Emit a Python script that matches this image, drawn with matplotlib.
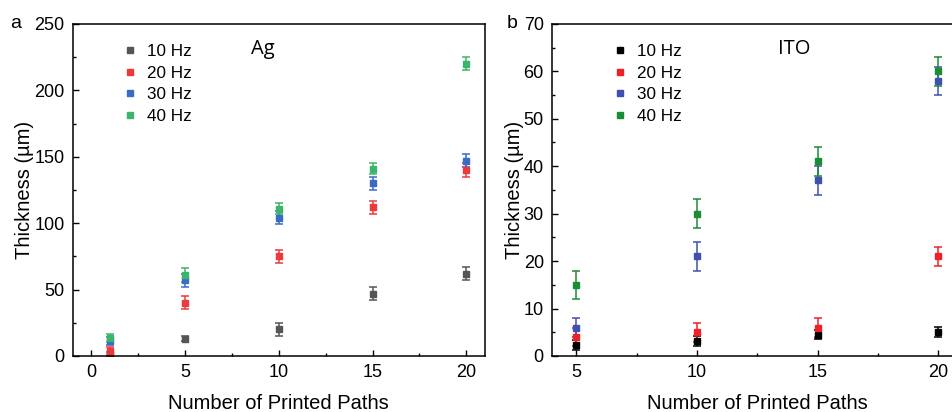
import matplotlib.pyplot as plt
from matplotlib.lines import Line2D
from matplotlib.ticker import MultipleLocator

plt.rcParams['font.family'] = ['Liberation Sans', 'DejaVu Sans']

labels = ["10 Hz", "20 Hz", "30 Hz", "40 Hz"]

# panel a: Ag
ag_x = [1, 5, 10, 15, 20]
ag_y = {
    "10 Hz": [1.5, 13, 20, 47, 62],
    "20 Hz": [4, 40, 75, 112, 140],
    "30 Hz": [11, 57, 104, 130, 147],
    "40 Hz": [13.5, 61, 111, 141, 220],
}
ag_err = {
    "10 Hz": [1.5, 2, 5, 5, 5],
    "20 Hz": [3, 5, 5, 5, 5],
    "30 Hz": [3, 5, 5, 5, 5],
    "40 Hz": [3, 5, 4, 4, 5],
}
ag_colors = ["#555555", "#ec3a3c", "#3a6cc6", "#3cb46c"]

# panel b: ITO
ito_x = [5, 10, 15, 20]
ito_y = {
    "10 Hz": [2.3, 3.2, 4.5, 5.1],
    "20 Hz": [4, 5, 6, 21],
    "30 Hz": [6, 21, 37, 58],
    "40 Hz": [15, 30, 41, 60],
}
ito_err = {
    "10 Hz": [1, 1, 1, 1],
    "20 Hz": [2, 2, 2, 2],
    "30 Hz": [2, 3, 3, 3],
    "40 Hz": [3, 3, 3, 3],
}
ito_colors = ["#000000", "#ee2226", "#4050ae", "#1c8c36"]

fig = plt.figure(figsize=(9.52, 4.12), dpi=100)
ax1 = fig.add_axes([0.0764, 0.136, 0.433, 0.806])
ax2 = fig.add_axes([0.580, 0.136, 0.431, 0.806])


def panel(ax, x, ys, errs, colors, xlim, ylim, xmaj, ymaj, name, name_x, leg_x):
    handles = []
    for lab, c in zip(labels, colors):
        ax.errorbar(x, ys[lab], yerr=errs[lab], fmt="s", color=c, ms=4.8,
                    elinewidth=1.1, capsize=3, capthick=1.1)
        handles.append(Line2D([], [], ls="none", marker="s", color=c, ms=4.8,
                              label=lab))
    ax.set_xlim(*xlim)
    ax.set_ylim(*ylim)
    ax.xaxis.set_major_locator(MultipleLocator(xmaj))
    ax.xaxis.set_minor_locator(MultipleLocator(xmaj / 2))
    ax.yaxis.set_major_locator(MultipleLocator(ymaj))
    ax.yaxis.set_minor_locator(MultipleLocator(ymaj / 2))
    ax.tick_params(which="both", direction="in", labelsize=13, width=1)
    ax.tick_params(which="major", length=4, pad=6)
    ax.tick_params(which="minor", length=2.5)
    for s in ax.spines.values():
        s.set_linewidth(1.1)
    ax.set_xlabel("Number of Printed Paths", fontsize=14.5, labelpad=9.5)
    ax.set_ylabel("Thickness (µm)", fontsize=14.5, labelpad=0)
    ax.legend(handles=handles, loc="upper left", bbox_to_anchor=(leg_x, 0.985),
              frameon=False, fontsize=12.3, handlelength=0.8,
              handletextpad=0.6, labelspacing=0.38)
    ax.text(name_x, 0.925, name, transform=ax.transAxes, fontsize=14.5,
            family=["Open Sans", "DejaVu Sans"], ha="center", va="center")


panel(ax1, ag_x, ag_y, ag_err, ag_colors, (-1, 21), (0, 250), 5, 50,
      "Ag", 0.46, 0.085)
panel(ax2, ito_x, ito_y, ito_err, ito_colors, (4, 21), (0, 70), 5, 10,
      "ITO", 0.59, 0.11)

fig.text(16 / 952, 1 - 24 / 412, "a", fontsize=14, ha="center", va="center")
fig.text(512 / 952, 1 - 24 / 412, "b", fontsize=14, ha="center", va="center")

fig.savefig("out.png", dpi=100)
